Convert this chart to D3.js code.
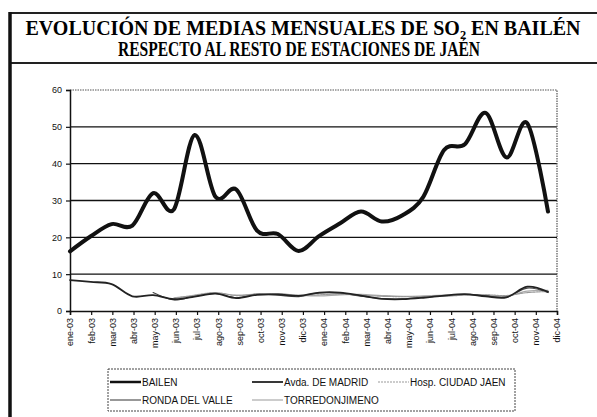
<!DOCTYPE html>
<html>
<head>
<meta charset="utf-8">
<script src="https://cdn.jsdelivr.net/npm/d3@7"></script>
<style>
  body { margin: 0; background: #fff; }
  svg { display: block; }
</style>
</head>
<body>
<div id="chart"></div>
<script>
// monthly means, ug/m3
var months = ["ene-03","feb-03","mar-03","abr-03","may-03","jun-03","jul-03","ago-03","sep-03","oct-03","nov-03","dic-03",
              "ene-04","feb-04","mar-04","abr-04","may-04","jun-04","jul-04","ago-04","sep-04","oct-04","nov-04","dic-04"];
var bailen = [16.2,20.3,23.6,23.2,32.0,27.6,47.8,31.0,33.0,21.8,20.9,16.3,
              20.4,23.8,27.0,24.3,26.0,31.0,43.7,45.3,53.8,41.7,51.0,27.0];
var avdaMadrid = [8.4,7.9,7.3,4.0,4.3,3.2,3.9,4.7,3.5,4.4,4.5,4.1,
                  5.0,5.0,4.2,3.3,3.2,3.6,4.2,4.6,4.0,3.7,6.6,5.2];
var hospCiudadJaen = [null,null,null,null,null,3.4,4.3,5.0,4.2,4.5,4.6,4.2,
                      4.4,4.6,4.3,4.0,3.9,3.9,4.0,4.3,4.4,4.2,5.0,5.3];
var rondaDelValle = [null,null,null,null,5.0,3.0,4.0,4.8,3.6,4.6,4.3,3.9,
                     4.9,4.8,4.0,3.4,3.3,3.8,4.1,4.5,4.1,3.8,6.2,5.0];
var torredonjimeno = [null,null,null,null,null,3.6,4.1,4.8,4.3,4.6,4.7,4.3,
                      4.1,4.4,4.5,4.2,4.0,4.1,4.3,4.5,4.3,4.0,5.4,5.6];
var yTicks = [0,10,20,30,40,50,60];

var series = [
  { name: "BAILEN", values: bailen, color: "#111", width: 4 },
  { name: "Avda. DE MADRID", values: avdaMadrid, color: "#222", width: 1.8 },
  { name: "Hosp. CIUDAD JAEN", values: hospCiudadJaen, color: "#9a9a9a", width: 1.2, dash: "2,1" },
  { name: "RONDA DEL VALLE", values: rondaDelValle, color: "#444", width: 1.1 },
  { name: "TORREDONJIMENO", values: torredonjimeno, color: "#aaa", width: 1.2 }
];

var W = 597, H = 417;
var plotL = 70, plotT = 90, plotR = 557, plotB = 311;

var svg = d3.select("#chart").append("svg")
  .attr("width", W).attr("height", H);

// title frame
svg.append("rect")
  .attr("x", 10).attr("y", 13).attr("width", 600).attr("height", 50)
  .attr("fill", "none").attr("stroke", "#222").attr("stroke-width", 2);
svg.append("line")
  .attr("x1", 10).attr("x2", 10).attr("y1", 12).attr("y2", H)
  .attr("stroke", "#111").attr("stroke-width", 3.5);

var title1 = svg.append("text")
  .attr("x", 303).attr("y", 35)
  .attr("text-anchor", "middle")
  .attr("textLength", 555).attr("lengthAdjust", "spacingAndGlyphs")
  .style("font-family", "'Liberation Serif', 'Times New Roman', serif")
  .style("font-weight", "bold").style("font-size", "21px");
title1.append("tspan").text("EVOLUCIÓN DE MEDIAS MENSUALES DE SO");
title1.append("tspan").attr("dy", 4).style("font-size", "13px").text("2");
title1.append("tspan").attr("dy", -4).text(" EN BAILÉN");

svg.append("text")
  .attr("x", 299).attr("y", 56)
  .attr("text-anchor", "middle")
  .attr("textLength", 362).attr("lengthAdjust", "spacingAndGlyphs")
  .style("font-family", "'Liberation Serif', 'Times New Roman', serif")
  .style("font-weight", "bold").style("font-size", "21px")
  .text("RESPECTO AL RESTO DE ESTACIONES DE JAÉN");

// scales
var x = d3.scalePoint().domain(months).range([plotL, plotR]);
// the scanned line series sit slightly short of the last tick
var xLine = d3.scalePoint().domain(months).range([plotL, plotR - 9]);
var y = d3.scaleLinear().domain([0, 60]).range([plotB, plotT]);

// grid lines
svg.append("g").selectAll("line")
  .data(yTicks.filter(function(d) { return d > 0 && d < 60; }))
  .enter().append("line")
  .attr("x1", plotL).attr("x2", plotR)
  .attr("y1", function(d) { return y(d); })
  .attr("y2", function(d) { return y(d); })
  .attr("stroke", "#111").attr("stroke-width", 1.4);

// plot border (dotted top/right)
svg.append("path")
  .attr("d", "M" + plotL + "," + y(60) + "H" + plotR + "V" + plotB)
  .attr("fill", "none").attr("stroke", "#555").attr("stroke-width", 1.2)
  .attr("stroke-dasharray", "1.5,1");

// y axis
var yAxis = svg.append("g")
  .attr("transform", "translate(" + plotL + ",0)")
  .call(d3.axisLeft(y).tickValues(yTicks).tickSize(4).tickPadding(4));
// x axis
var xAxis = svg.append("g")
  .attr("transform", "translate(0," + plotB + ")")
  .call(d3.axisBottom(x).tickSize(4).tickPadding(4));

[yAxis, xAxis].forEach(function(a) {
  a.select(".domain").attr("stroke", "#111").attr("stroke-width", 1.5);
  a.selectAll(".tick line").attr("stroke", "#111").attr("stroke-width", 1.2);
  a.selectAll("text")
    .style("font-family", "'Liberation Sans', Arial, sans-serif")
    .style("font-size", "9px").attr("fill", "#111");
});
xAxis.selectAll("text")
  .attr("transform", "rotate(-90)")
  .attr("text-anchor", "end")
  .attr("x", -7).attr("y", 0).attr("dy", "0.32em");

// lines
var line = d3.line()
  .defined(function(d) { return d != null; })
  .x(function(d, i) { return xLine(months[i]); })
  .y(function(d) { return y(d); })
  .curve(d3.curveCardinal.tension(0));

svg.append("g").selectAll("path")
  .data(series.slice().reverse())
  .enter().append("path")
  .attr("d", function(s) { return line(s.values); })
  .attr("fill", "none")
  .attr("stroke", function(s) { return s.color; })
  .attr("stroke-width", function(s) { return s.width; })
  .attr("stroke-dasharray", function(s) { return s.dash || null; })
  .attr("stroke-linejoin", "round")
  .attr("stroke-linecap", "round");

// legend
var legend = svg.append("g");
legend.append("rect")
  .attr("x", 108).attr("y", 369).attr("width", 407).attr("height", 42)
  .attr("fill", "#fff").attr("stroke", "#444").attr("stroke-width", 1)
  .attr("stroke-dasharray", "2,1");

var legendPos = [[110, 382], [252, 382], [378, 382], [110, 400], [252, 400]];
var items = legend.selectAll("g.item")
  .data(series).enter().append("g")
  .attr("class", "item")
  .attr("transform", function(s, i) { return "translate(" + legendPos[i][0] + "," + legendPos[i][1] + ")"; });
items.append("line")
  .attr("x1", 0).attr("x2", 31)
  .attr("stroke", function(s) { return s.color; })
  .attr("stroke-width", function(s) { return Math.min(s.width, 2.5); })
  .attr("stroke-dasharray", function(s) { return s.dash || null; });
items.append("text")
  .attr("x", 32).attr("dy", "0.35em")
  .style("font-family", "'Liberation Sans', Arial, sans-serif")
  .style("font-size", "10px").attr("fill", "#111")
  .text(function(s) { return s.name; });
</script>
</body>
</html>
